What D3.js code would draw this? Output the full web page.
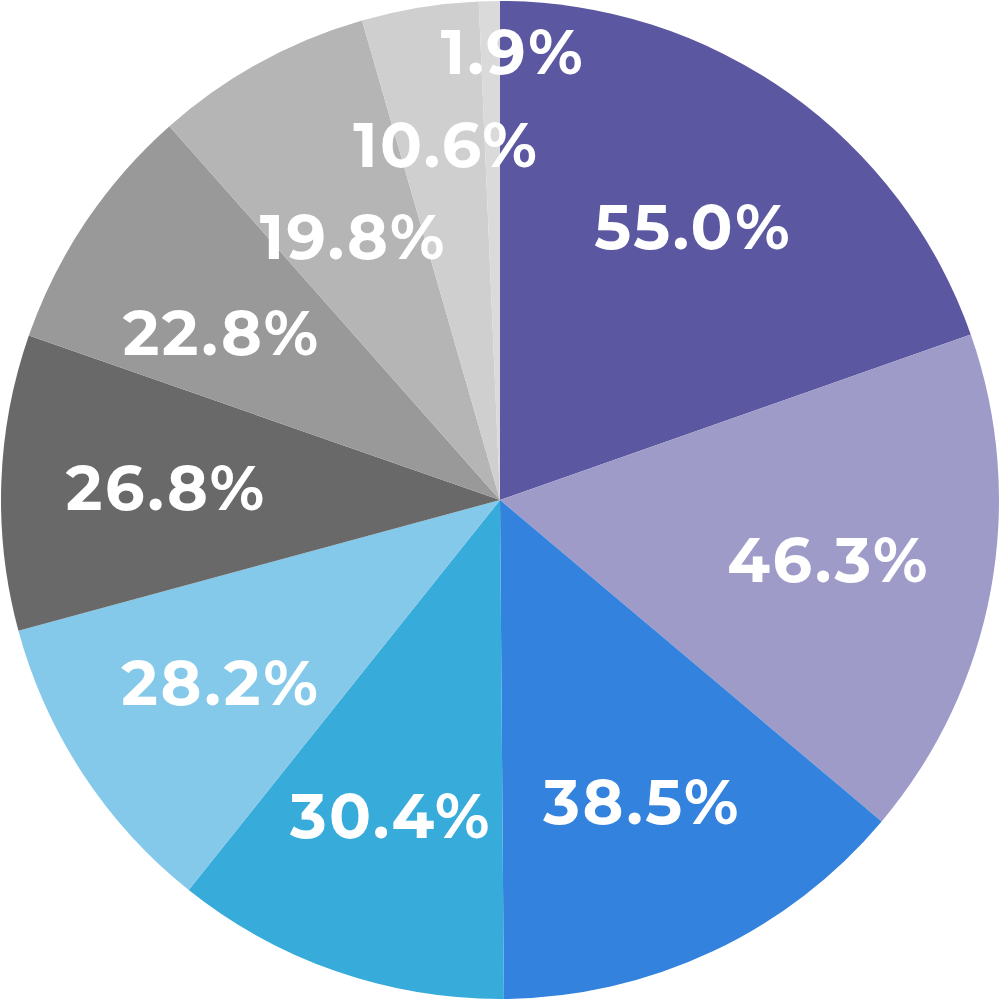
<!DOCTYPE html>
<html>
<head>
<meta charset="utf-8">
<script src="https://cdn.jsdelivr.net/npm/d3@7"></script>
<style>
  html, body { margin: 0; padding: 0; background: #ffffff; }
  svg { display: block; }
</style>
</head>
<body>
<script>
// Data
const categories = ["A", "B", "C", "D", "E", "F", "G", "H", "I", "J"];
const values = [55.0, 46.3, 38.5, 30.4, 28.2, 26.8, 22.8, 19.8, 10.6, 1.9];
const colors = ["#5b57a0", "#9e9bc9", "#3282de", "#37abd9", "#84c9ea",
                "#696969", "#999999", "#b5b5b5", "#cfcfcf", "#dadada"];
// label nudges (pixels) to avoid overlap in the thin slices
const labelShiftX = [0, 0, 0, 0, 0, 0, -1, 14, 0, 20];
const labelShiftY = [0, 0, 0, 0, 0, 0, 19, 30, -25, -114];

const W = 1000, H = 1000, R = 499, cx = 500, cy = 500;
const svg = d3.select("body").append("svg").attr("width", W).attr("height", H);
const g = svg.append("g").attr("transform", `translate(${cx},${cy})`);

const data = categories.map((c, i) => ({ c, v: values[i], i }));
const pie = d3.pie().value(d => d.v).sort(null);
const arcs = pie(data);
const arc = d3.arc().innerRadius(0).outerRadius(R);
const labelArc = d3.arc().innerRadius(334).outerRadius(334);

g.selectAll("path").data(arcs).enter().append("path")
  .attr("d", arc)
  .attr("fill", d => colors[d.data.i]);

g.selectAll("text").data(arcs).enter().append("text")
  .attr("transform", d => {
    const [x, y] = labelArc.centroid(d);
    return `translate(${x + labelShiftX[d.data.i]},${y + labelShiftY[d.data.i]})`;
  })
  .attr("text-anchor", "middle")
  .attr("dominant-baseline", "central")
  .attr("fill", "#ffffff")
  .style("font-family", "Montserrat, 'Open Sans', sans-serif")
  .style("font-weight", 700)
  .style("font-size", "62px")
  .style("letter-spacing", "2.5px")
  .text(d => d.data.v.toFixed(1) + "%");
</script>
</body>
</html>
